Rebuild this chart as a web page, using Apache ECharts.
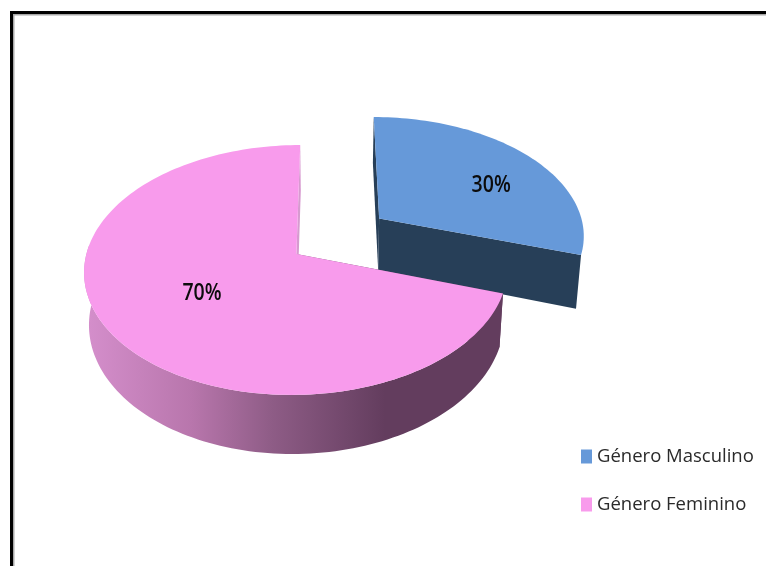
<!DOCTYPE html>
<html>
<head>
<meta charset="utf-8">
<style>html,body{margin:0;padding:0;background:#fff}#c{width:766px;height:566px}</style>
<script src="https://cdn.jsdelivr.net/npm/echarts@6/dist/echarts.min.js"></script>
</head>
<body>
<div id="c"></div>
<script>
// Data
const categories = ['Género Masculino', 'Género Feminino'];
const values = [30, 70];

// Style and 3D layout
const topColors = ['#6699d9', '#f89bec'];
const pinkWall = {type:'linear', x:88, y:0, x2:385, y2:0, global:true, colorStops:[
  {offset:0, color:'#d48ecb'},
  {offset:0.35, color:'#b876ac'},
  {offset:0.62, color:'#8e5c86'},
  {offset:1, color:'#633d5e'}
]};
const wallFill = ['#273f58', pinkWall];
const startFaceFill = ['#273f58', pinkWall];
const endFaceFill = ['#273f58', '#d79ad0'];
const showOuterWall = [false, true];
const sliceOffsets = [[0.243, 0.3], [-0.16, 0]];
const sliceHeights = [53.5, 51.5];
const labelRadius = [0.656, 0.526];
const labelAngleShift = [8.8, 0];

const pieView = {vx:330, vy:-706, rx:210, depth:960, k:0.128, lean:0.02};
function project(X, Y) {
  const w = 1 + pieView.k * Y;
  return {x: pieView.vx + pieView.rx * X / w, y: pieView.vy + pieView.depth / w, w: w};
}
function topPt(X, Y) { const p = project(X, Y); return [p.x, p.y]; }
function bottomPt(X, Y, h) {
  const p = project(X, Y);
  return [p.x + (pieView.vx - p.x) * pieView.lean, p.y + h / p.w];
}

const total = values.reduce((a, b) => a + b, 0);
const rad = d => d * Math.PI / 180;

function sliceRange(i) {
  let s = 0;
  for (let j = 0; j < i; j++) s += values[j];
  return [s / total * 360, (s + values[i]) / total * 360];
}

function renderSlice(i) {
  const [a0, a1] = sliceRange(i);
  const [ox, oy] = sliceOffsets[i];
  const h = sliceHeights[i];
  const rim = d => [ox + Math.sin(rad(d)), oy + Math.cos(rad(d))];
  const arc = [];
  for (let d = a0; d < a1; d += 1.5) arc.push(d);
  arc.push(a1);

  const topFace = [topPt(ox, oy)].concat(arc.map(d => topPt(...rim(d))));
  const face = d => [topPt(ox, oy), topPt(...rim(d)), bottomPt(...rim(d), h), bottomPt(ox, oy, h)];

  const children = [
    {type:'polygon', shape:{points:face(a0)}, style:{fill:startFaceFill[i]}},
    {type:'polygon', shape:{points:face(a1)}, style:{fill:endFaceFill[i]}}
  ];
  if (showOuterWall[i]) {
    const front = arc.filter(d => Math.cos(rad(d)) < 0.1);
    const outer = front.map(d => topPt(...rim(d)))
      .concat(front.slice().reverse().map(d => bottomPt(...rim(d), h)));
    children.push({type:'polygon', shape:{points:outer}, style:{fill:wallFill[i]}});
  }
  children.push({type:'polygon', shape:{points:topFace}, style:{fill:topColors[i]}});

  const mid = (a0 + a1) / 2 + labelAngleShift[i];
  const lp = topPt(ox + labelRadius[i] * Math.sin(rad(mid)), oy + labelRadius[i] * Math.cos(rad(mid)));
  children.push({type:'text', x:lp[0], y:lp[1], scaleY:1.18, style:{
    x:0, y:0, text:Math.round(values[i] / total * 100) + '%',
    align:'center', verticalAlign:'middle',
    font:'600 19.5px "Open Sans"', fill:'#0c0c0c'
  }});
  return {type:'group', children};
}

const chart = echarts.init(document.getElementById('c'), null, {renderer:'canvas'});
chart.setOption({
  animation:false,
  backgroundColor:'#ffffff',
  legend:{
    orient:'vertical', left:581, top:447, padding:0, icon:'rect',
    itemWidth:11, itemHeight:14, itemGap:29,
    textStyle:{fontFamily:'Open Sans', fontSize:18.5, color:'#2a2a2a'},
    data:categories
  },
  series:categories.map((name, i) => ({
    type:'custom', name, coordinateSystem:'none', z:2 + i,
    itemStyle:{color:topColors[i]},
    data:[[values[i]]],
    renderItem:() => renderSlice(i)
  })),
  graphic:[
    {type:'rect', z:1, shape:{x:13, y:14, width:1.5, height:552}, style:{fill:'#a8a8a8'}},
    {type:'rect', z:1, shape:{x:13, y:14, width:753, height:1.5}, style:{fill:'#a8a8a8'}},
    {type:'rect', z:1, shape:{x:10, y:11, width:3, height:555}, style:{fill:'#000'}},
    {type:'rect', z:1, shape:{x:10, y:11, width:756, height:3}, style:{fill:'#000'}}
  ]
});
</script>
</body>
</html>
